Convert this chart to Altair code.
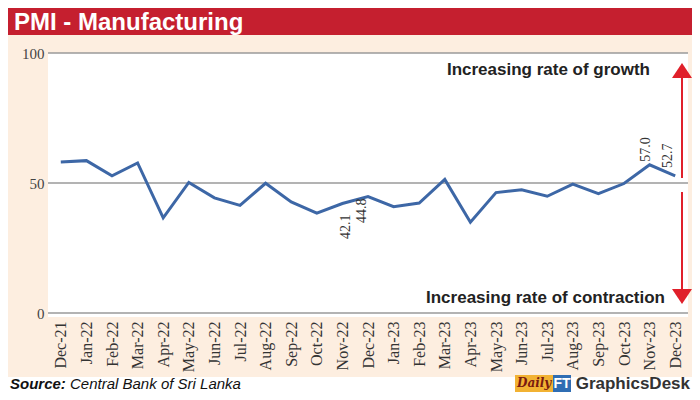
import altair as alt
import pandas as pd

months = ["Dec-21", "Jan-22", "Feb-22", "Mar-22", "Apr-22", "May-22", "Jun-22", "Jul-22",
          "Aug-22", "Sep-22", "Oct-22", "Nov-22", "Dec-22", "Jan-23", "Feb-23", "Mar-23",
          "Apr-23", "May-23", "Jun-23", "Jul-23", "Aug-23", "Sep-23", "Oct-23", "Nov-23", "Dec-23"]
pmi = [58.1, 58.6, 52.8, 57.7, 36.6, 50.2, 44.3, 41.4, 49.9, 42.7, 38.4, 42.1, 44.8,
       40.9, 42.3, 51.4, 34.9, 46.3, 47.4, 44.9, 49.6, 45.9, 49.8, 57.0, 52.7]

label_months = ["Nov-22", "Dec-22", "Nov-23", "Dec-23"]
label_values = [42.1, 44.8, 57.0, 52.7]
label_text = ["42.1", "44.8", "57.0", "52.7"]

y_ticks = [0, 50, 100]

SERIF = "Liberation Serif"
NARROW = "Liberation Sans Narrow, Arial Narrow, Liberation Sans"
SANS = "Liberation Sans"

df = pd.DataFrame({"month": months, "pmi": pmi})
one = pd.DataFrame({"a": [0]})

xscale = alt.Scale(domain=months, type="point", padding=0.5)
yscale = alt.Scale(domain=[0, 100], nice=False)

yaxis = alt.Axis(title=None, values=y_ticks, labelFont=SERIF, labelFontSize=15,
                 labelColor="#444444", labelPadding=4, ticks=False, domain=False,
                 grid=False, zindex=1)

cream = alt.Chart(one).mark_rect(color="#fdeee0").encode(
    x=alt.value(-40), x2=alt.value(644), y=alt.value(-18), y2=alt.value(324))
redbar = alt.Chart(one).mark_rect(color="#c51f2f").encode(
    x=alt.value(-40), x2=alt.value(644), y=alt.value(-45), y2=alt.value(-18))
white = alt.Chart(one).mark_rect(color="#ffffff").encode(
    x=alt.value(0), x2=alt.value(640), y=alt.value(0), y2=alt.value(264))
title = alt.Chart(one).mark_text(
    text="PMI - Manufacturing", color="white", font=NARROW, fontSize=24,
    fontWeight="bold", align="left", baseline="middle").encode(
    x=alt.value(-34), y=alt.value(-30))

grid = alt.Chart(pd.DataFrame({"g": y_ticks})).mark_rule(
    color="#9a9a9a", strokeWidth=1.5).encode(y=alt.Y("g:Q", scale=yscale, axis=yaxis))

line = alt.Chart(df).mark_line(color="#3d67a6", strokeWidth=3).encode(
    x=alt.X("month:N", scale=xscale, sort=months,
            axis=alt.Axis(title=None, labelAngle=-90, labelFont=SERIF, labelFontSize=16,
                          labelColor="#333333", labelPadding=8, ticks=False,
                          domain=False, grid=False, zindex=1)),
    y=alt.Y("pmi:Q", scale=yscale, axis=yaxis),
)

lab = pd.DataFrame({"month": label_months, "v": label_values, "t": label_text})


def vlabel(i, align, dx, dy):
    return alt.Chart(lab.iloc[[i]]).mark_text(
        angle=270, align=align, baseline="middle", font=SERIF, fontSize=14,
        color="#333333", dx=dx, dy=dy).encode(
        x=alt.X("month:N", scale=xscale), y=alt.Y("v:Q", scale=yscale, axis=yaxis),
        text="t:N")


l1 = vlabel(0, "right", -11, 4)
l2 = vlabel(1, "right", -2, -6)
l3 = vlabel(2, "left", 3, -4)
l4 = vlabel(3, "left", 8, -7)

growth = alt.Chart(pd.DataFrame({"v": [93.5]})).mark_text(
    text="Increasing rate of growth", font=NARROW, fontSize=17, fontWeight="bold",
    color="#222222", align="right", baseline="middle").encode(
    x=alt.value(602), y=alt.Y("v:Q", scale=yscale, axis=yaxis))
contraction = alt.Chart(pd.DataFrame({"v": [5.8]})).mark_text(
    text="Increasing rate of contraction", font=NARROW, fontSize=17, fontWeight="bold",
    color="#222222", align="right", baseline="middle").encode(
    x=alt.value(617), y=alt.Y("v:Q", scale=yscale, axis=yaxis))

arrows = pd.DataFrame({"y1": [90.4, 46.5], "y2": [51.9, 8.8]})
arrow_lines = alt.Chart(arrows).mark_rule(color="#e0202a", strokeWidth=2).encode(
    x=alt.value(634), y=alt.Y("y1:Q", scale=yscale, axis=yaxis), y2="y2:Q")
head_up = alt.Chart(pd.DataFrame({"v": [93.3]})).mark_point(
    shape="M0,-0.75L1,0.75L-1,0.75Z", filled=True, color="#e0202a", opacity=1, size=400
).encode(x=alt.value(634), y=alt.Y("v:Q", scale=yscale, axis=yaxis))
head_down = alt.Chart(pd.DataFrame({"v": [6.3]})).mark_point(
    shape="M0,0.75L1,-0.75L-1,-0.75Z", filled=True, color="#e0202a", opacity=1, size=400
).encode(x=alt.value(634), y=alt.Y("v:Q", scale=yscale, axis=yaxis))

src1 = alt.Chart(one).mark_text(text="Source:", font=SANS, fontSize=15, fontWeight="bold",
    fontStyle="italic", color="#111111", align="left", baseline="middle").encode(
    x=alt.value(-38), y=alt.value(331))
src2 = alt.Chart(one).mark_text(text="Central Bank of Sri Lanka", font=SANS, fontSize=15,
    fontStyle="italic", color="#111111", align="left", baseline="middle").encode(
    x=alt.value(22), y=alt.value(331))

daily_box = alt.Chart(one).mark_rect(color="#f2b233").encode(
    x=alt.value(467), x2=alt.value(505), y=alt.value(322), y2=alt.value(339))
daily_txt = alt.Chart(one).mark_text(text="Daily", font="DejaVu Serif", fontSize=12,
    fontStyle="italic", fontWeight="bold", color="#7a1a10", align="left",
    baseline="middle").encode(x=alt.value(469), y=alt.value(330))
ft_box = alt.Chart(one).mark_rect(color="#2f6db3").encode(
    x=alt.value(505), x2=alt.value(523), y=alt.value(322), y2=alt.value(339))
ft_txt = alt.Chart(one).mark_text(text="FT", font=SANS, fontSize=14, fontWeight="bold",
    color="white", align="center", baseline="middle").encode(
    x=alt.value(514), y=alt.value(331))
gd = alt.Chart(one).mark_text(text="GraphicsDesk", font=SANS, fontSize=17,
    fontWeight="bold", color="#333333", align="right", baseline="middle").encode(
    x=alt.value(642), y=alt.value(331))

chart = alt.layer(
    cream, redbar, white, title, grid, line, l1, l2, l3, l4, growth, contraction,
    arrow_lines, head_up, head_down, src1, src2, daily_box, daily_txt, ft_box, ft_txt, gd
).properties(
    width=640, height=260,
    autosize=alt.AutoSizeParams(type="none"),
    padding={"left": 40, "top": 45, "right": 4, "bottom": 79},
    background="white",
).configure_view(strokeWidth=0)

chart.save("out.html", embed_options={"renderer": "svg", "actions": False})
